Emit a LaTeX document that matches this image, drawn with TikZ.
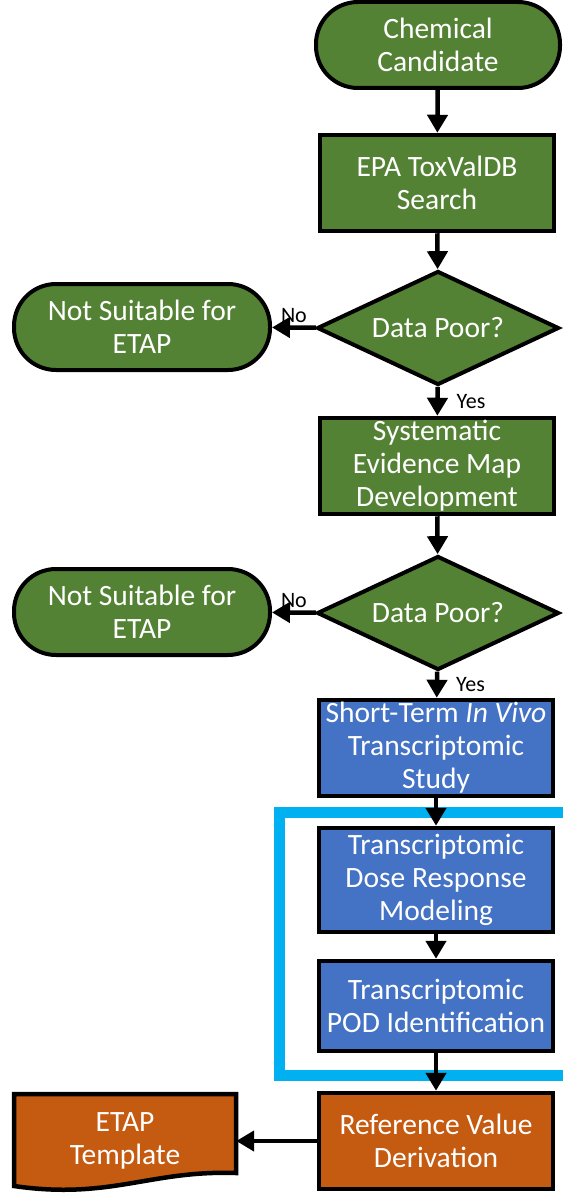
\documentclass[tikz,border=0pt]{standalone}
\usepackage{fontspec}
\setmainfont{Carlito}
\usepackage{tikz}
\usetikzlibrary{arrows.meta, positioning, shapes.geometric}

\definecolor{stepgreen}{RGB}{84,130,53}
\definecolor{stepblue}{RGB}{68,114,196}
\definecolor{steporange}{RGB}{197,90,17}
\definecolor{framecyan}{RGB}{0,176,240}

\begin{document}
\begin{tikzpicture}[x=1pt,y=-1pt,>={Triangle[width=20pt,length=18pt]},
        every node/.style={font=\fontsize{29.5}{33}\selectfont, text=white, align=center},
        terminal/.style={rectangle, rounded corners=42pt, draw=black, line width=4pt,
            fill=stepgreen, minimum width=244pt, minimum height=86pt, inner sep=2pt},
        process/.style={rectangle, draw=black, line width=4.5pt, minimum width=234pt,
            minimum height=96pt, inner sep=1pt},
        decision/.style={diamond, draw=black, line width=4pt, fill=stepgreen,
            aspect=2.1, minimum width=242pt, minimum height=114pt, inner sep=0pt},
        flow/.style={->, line width=4.5pt},
        answer/.style={font=\fontsize{22}{26}\selectfont, text=black, inner sep=3pt}]
    \useasboundingbox (0,0) rectangle (562,1193);

    % main column
    \node[terminal]               (cand)   at (438,45)   {Chemical\\Candidate};
    \node[process, fill=stepgreen] (search) at (437,183)  {EPA ToxValDB\\Search};
    \node[decision]               (poorA)  at (438,328)  {Data Poor?};
    \node[terminal, minimum width=256pt] (nsA) at (142,327) {Not Suitable for\\ETAP};
    \node[process, fill=stepgreen] (sem)    at (437,466)  {Systematic\\Evidence Map\\Development};
    \node[decision]               (poorB)  at (438,613)  {Data Poor?};
    \node[terminal, minimum width=256pt] (nsB) at (142,612) {Not Suitable for\\ETAP};
    \node[process, fill=stepblue]  (study)  at (436,748)  {Short-Term \textit{In Vivo}\\Transcriptomic\\Study};
    \node[process, fill=stepblue, minimum height=104pt] (bmd) at (436,880) {Transcriptomic\\Dose Response\\Modeling};
    \node[process, fill=stepblue, minimum height=90pt]  (pod) at (436,1006) {Transcriptomic\\POD Identification};
    \node[process, fill=steporange] (refval) at (436,1141) {Reference Value\\Derivation};

    % document shape for the template
    \draw[fill=steporange, line width=4.5pt, line join=miter] (14,1094) -- (236,1094) -- (236,1173)
        .. controls (150,1170) and (110,1200) .. (14,1186) -- cycle;
    \node[minimum width=222pt, inner sep=0pt] (tmpl) at (125,1141) {ETAP\\Template};

    % highlight frame
    \draw[framecyan, line width=11pt] (279,812) rectangle (575,1075);

    \draw[flow] (cand) -- (search);
    \draw[flow] (search) -- (poorA);
    \draw[flow] (poorA) -- node[answer, above] {No} (nsA);
    \draw[flow] (poorA) -- node[answer, right, xshift=14pt] {Yes} (sem);
    \draw[flow] (sem) -- (poorB);
    \draw[flow] (poorB) -- node[answer, above] {No} (nsB);
    \draw[flow] (poorB) -- node[answer, right, xshift=14pt] {Yes} (study);
    \draw[flow] (study) -- (bmd);
    \draw[flow] (bmd) -- (pod);
    \draw[flow] (pod) -- (refval);
    \draw[flow] (refval) -- (tmpl.east);
\end{tikzpicture}
\end{document}
